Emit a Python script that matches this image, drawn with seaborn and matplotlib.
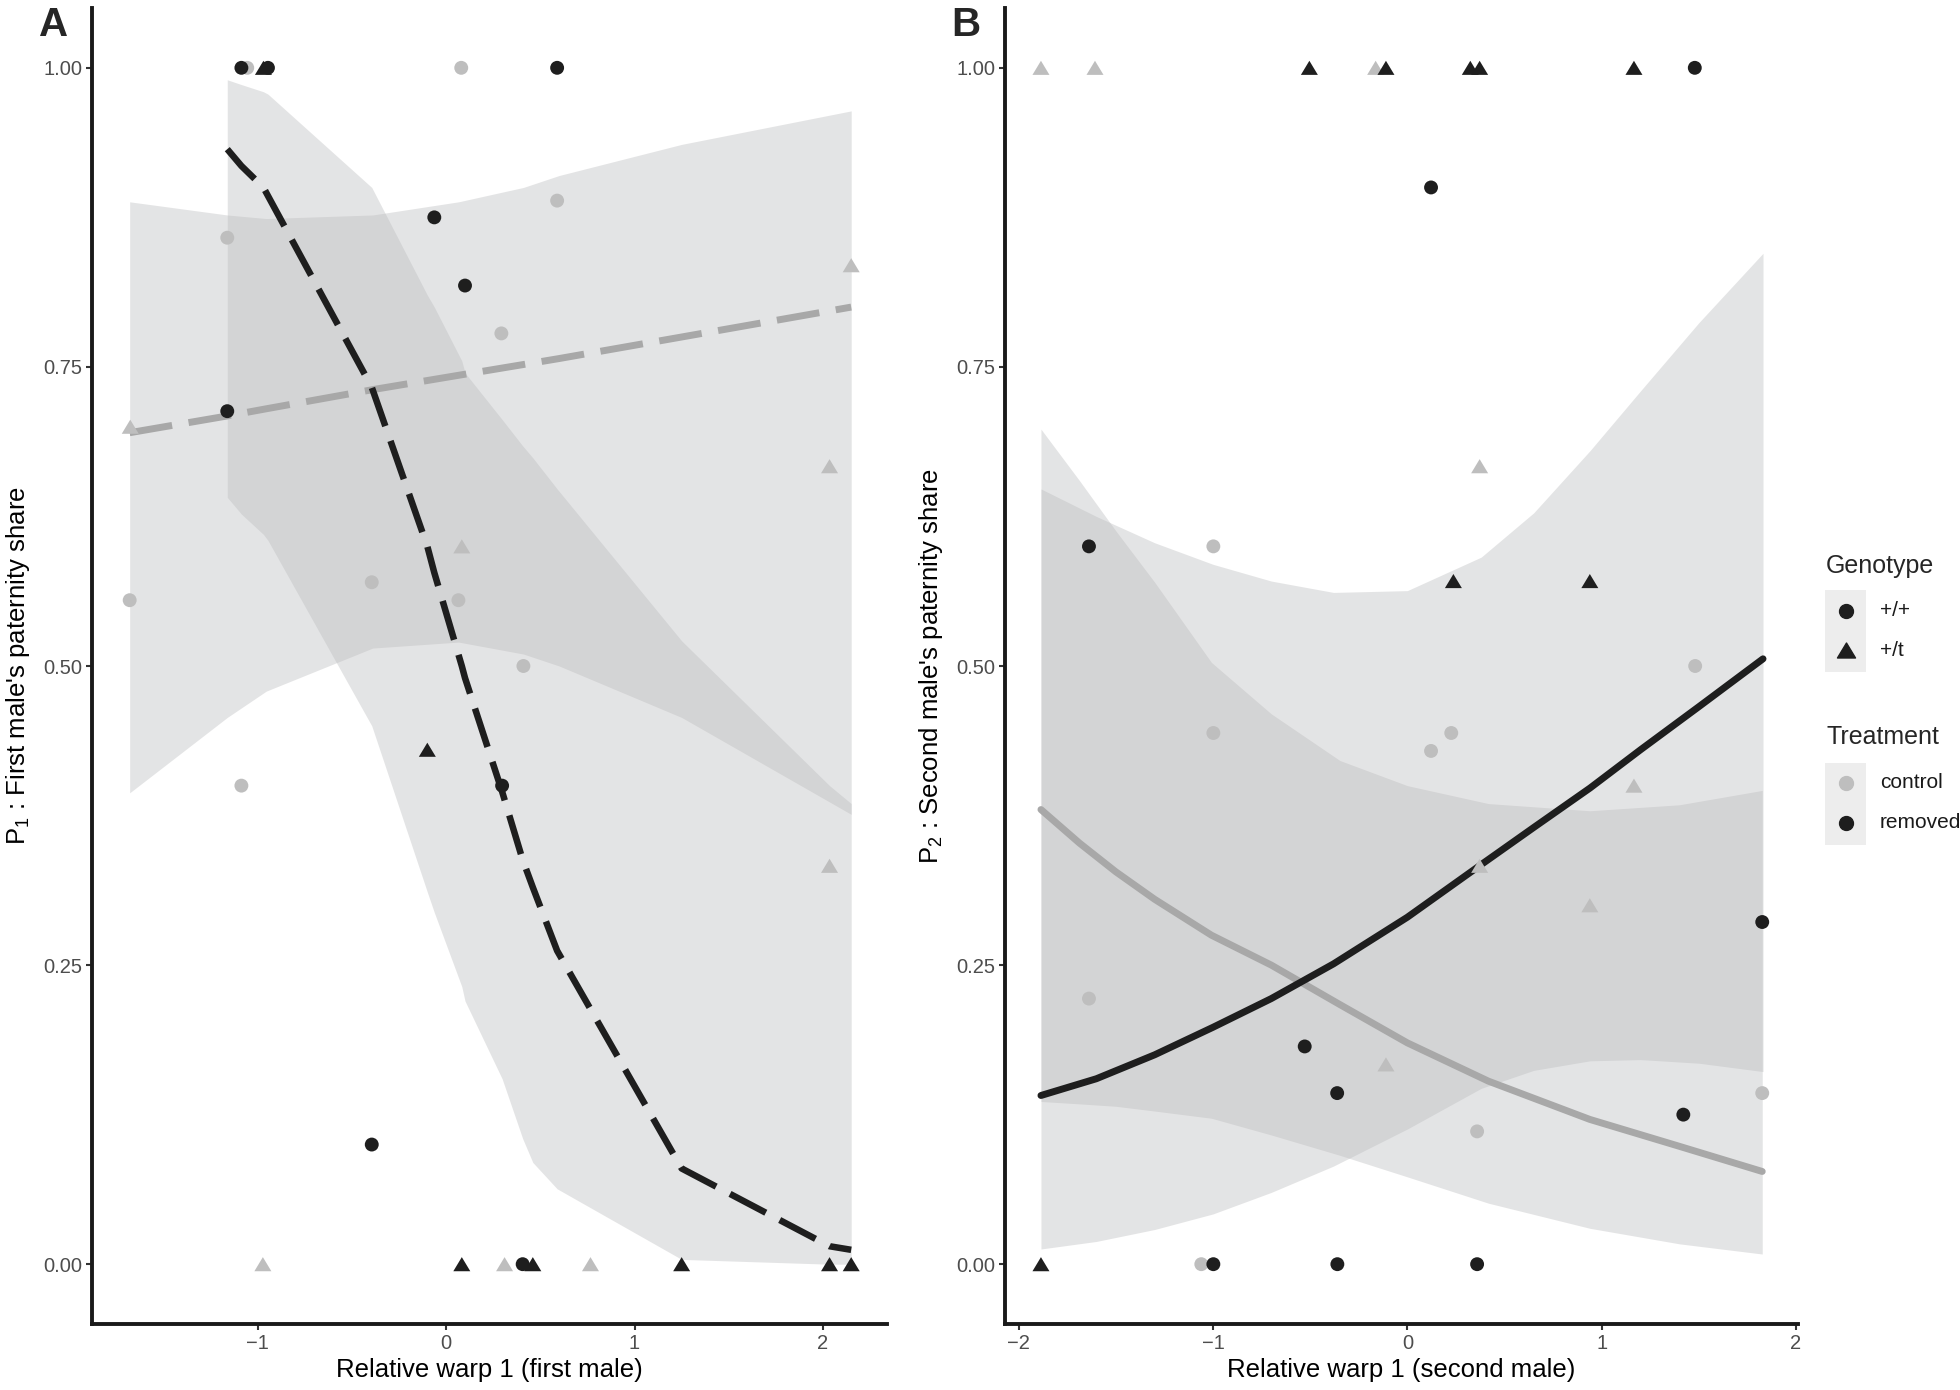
import numpy as np
import pandas as pd
import matplotlib
matplotlib.use("Agg")
import matplotlib.pyplot as plt
from matplotlib.path import Path
from matplotlib.patches import Rectangle
from matplotlib.lines import Line2D
import seaborn as sns

# ---------------- data ----------------
# Panel A (first male)
xA_ctrl = [-1.68, -1.677, -1.162, -1.087, -1.056, -0.973, -0.395, 0.065, 0.08, 0.083,
           0.293, 0.31, 0.41, 0.589, 0.766, 2.035, 2.035, 2.15]
yA_ctrl = [0.555, 0.70, 0.858, 0.40, 1.0, 0.0, 0.57, 0.555, 1.0, 0.60,
           0.778, 0.0, 0.50, 0.889, 0.0, 0.667, 0.333, 0.835]
gA_ctrl = ["+/+", "+/t", "+/+", "+/+", "+/+", "+/t", "+/+", "+/+", "+/+", "+/t",
           "+/+", "+/t", "+/+", "+/+", "+/t", "+/t", "+/t", "+/t"]

xA_rem = [-1.162, -1.087, -0.97, -0.946, -0.395, -0.1, -0.063, 0.083, 0.10, 0.297,
          0.406, 0.46, 0.589, 1.25, 2.035, 2.15]
yA_rem = [0.713, 1.0, 1.0, 1.0, 0.10, 0.43, 0.875, 0.0, 0.818, 0.40,
          0.0, 0.0, 1.0, 0.0, 0.0, 0.0]
gA_rem = ["+/+", "+/+", "+/t", "+/+", "+/+", "+/t", "+/+", "+/t", "+/+", "+/+",
          "+/+", "+/t", "+/+", "+/t", "+/t", "+/t"]

# fitted curves + confidence bands, panel A
fitA_rem_x = xA_rem
fitA_rem_y = [0.932, 0.918, 0.90, 0.893, 0.733, 0.60, 0.578, 0.50, 0.49, 0.395,
              0.338, 0.315, 0.262, 0.08, 0.015, 0.012]
fitA_rem_lo = [0.641, 0.627, 0.61, 0.605, 0.45, 0.311, 0.294, 0.232, 0.22, 0.155,
               0.105, 0.085, 0.063, 0.004, 0.0, 0.0]
fitA_rem_hi = [0.99, 0.986, 0.98, 0.978, 0.90, 0.81, 0.80, 0.755, 0.745, 0.706,
               0.684, 0.674, 0.648, 0.521, 0.40, 0.385]

fitA_ctrl_x = [-1.68, -1.162, -0.955, -0.39, 0.066, 0.41, 0.6, 1.25, 2.15]
fitA_ctrl_y = [0.695, 0.709, 0.715, 0.731, 0.743, 0.752, 0.757, 0.775, 0.80]
fitA_ctrl_lo = [0.394, 0.457, 0.479, 0.515, 0.52, 0.51, 0.50, 0.457, 0.376]
fitA_ctrl_hi = [0.888, 0.877, 0.874, 0.877, 0.888, 0.90, 0.91, 0.936, 0.964]

# Panel B (second male)
xB_ctrl = [-1.885, -1.607, -0.163, 0.372, -0.998, 1.481, -0.998, 0.226, 0.122, 1.166,
           0.372, 0.939, -1.638, -0.11, 1.826, 0.359, -1.06]
yB_ctrl = [1.0, 1.0, 1.0, 0.667, 0.60, 0.50, 0.444, 0.444, 0.429, 0.40,
           0.333, 0.30, 0.222, 0.167, 0.143, 0.111, 0.0]
gB_ctrl = ["+/t", "+/t", "+/t", "+/t", "+/+", "+/+", "+/+", "+/+", "+/+", "+/t",
           "+/t", "+/t", "+/+", "+/t", "+/+", "+/+", "+/+"]

xB_rem = [-0.504, -0.11, 0.324, 0.372, 1.166, 1.479, 0.122, -1.638, 0.237, 0.939,
          1.826, -0.528, -0.361, 1.42, -1.885, -0.998, -0.36, 0.359]
yB_rem = [1.0, 1.0, 1.0, 1.0, 1.0, 1.0, 0.90, 0.60, 0.571, 0.571,
          0.286, 0.182, 0.143, 0.125, 0.0, 0.0, 0.0, 0.0]
gB_rem = ["+/t", "+/t", "+/t", "+/t", "+/t", "+/+", "+/+", "+/+", "+/t", "+/t",
          "+/+", "+/+", "+/+", "+/+", "+/t", "+/+", "+/+", "+/+"]

fitB_rem_x = [-1.885, -1.6, -1.3, -1.0, -0.7, -0.38, 0.0, 0.38, 0.65, 0.94, 1.2, 1.5, 1.83]
fitB_rem_y = [0.141, 0.155, 0.175, 0.198, 0.222, 0.251, 0.29, 0.334, 0.365, 0.398,
              0.43, 0.466, 0.506]
fitB_rem_lo = [0.0127, 0.019, 0.029, 0.042, 0.06, 0.082, 0.113, 0.147, 0.162, 0.17,
               0.171, 0.168, 0.161]
fitB_rem_hi = [0.648, 0.625, 0.603, 0.585, 0.571, 0.5615, 0.563, 0.591, 0.628, 0.68,
               0.73, 0.787, 0.845]

fitB_ctrl_x = [-1.885, -1.687, -1.5, -1.3, -1.008, -0.7, -0.347, 0.0, 0.417, 0.939, 1.4, 1.826]
fitB_ctrl_y = [0.38, 0.352, 0.328, 0.305, 0.275, 0.25, 0.217, 0.185, 0.153, 0.121,
               0.0985, 0.0775]
fitB_ctrl_lo = [0.136, 0.134, 0.132, 0.128, 0.122, 0.108, 0.091, 0.073, 0.051, 0.03,
                0.017, 0.0085]
fitB_ctrl_hi = [0.698, 0.655, 0.613, 0.57, 0.503, 0.46, 0.421, 0.40, 0.385, 0.379,
                0.384, 0.396]

yticks = [0.0, 0.25, 0.5, 0.75, 1.0]
ytick_labels = ["0.00", "0.25", "0.50", "0.75", "1.00"]

# ---------------- style ----------------
sns.set_theme(style="white")
plt.rcParams["font.family"] = ["Liberation Sans", "DejaVu Sans"]
plt.rcParams["mathtext.fontset"] = "custom"
plt.rcParams["mathtext.rm"] = "Liberation Sans"
plt.rcParams["mathtext.it"] = "Liberation Sans:italic"

C_CTRL = "#BEBEBE"
C_REM = "#1E1E1E"
C_LINE_CTRL = "#A8A8A8"
RIB = "#BBBCBE"
RIB_ALPHA = 0.40
palette = {"control": C_CTRL, "removed": C_REM}
tri = Path([(-1, -0.83), (1, -0.83), (0, 0.83), (-1, -0.83)],
           [Path.MOVETO, Path.LINETO, Path.LINETO, Path.CLOSEPOLY])


def make_df(xc, yc, gc, xr, yr, gr):
    d1 = pd.DataFrame({"x": xc, "y": yc, "geno": gc, "trt": "control"})
    d2 = pd.DataFrame({"x": xr, "y": yr, "geno": gr, "trt": "removed"})
    return pd.concat([d1, d2], ignore_index=True)


dfA = make_df(xA_ctrl, yA_ctrl, gA_ctrl, xA_rem, yA_rem, gA_rem)
dfB = make_df(xB_ctrl, yB_ctrl, gB_ctrl, xB_rem, yB_rem, gB_rem)

W, H = 1960, 1390
fig = plt.figure(figsize=(W / 100, H / 100), dpi=100)
top, bot = 8, 1324
axA = fig.add_axes([92 / W, 1 - bot / H, (887 - 92) / W, (bot - top) / H])
axB = fig.add_axes([1005 / W, 1 - bot / H, (1798 - 1005) / W, (bot - top) / H])


def draw_panel(ax, df, fits, xlim, xlabel, ylabel):
    for fx, fy, lo, hi, col, ls, lw in fits:
        ax.fill_between(fx, lo, hi, color=RIB, alpha=RIB_ALPHA, linewidth=0, zorder=1)
    for fx, fy, lo, hi, col, ls, lw in fits:
        sns.lineplot(x=fx, y=fy, ax=ax, color=col, linewidth=lw, linestyle=ls,
                     sort=False, estimator=None, zorder=2)
    for geno, mk, s in [("+/+", "o", 100), ("+/t", tri, 150)]:
        sub = df[df["geno"] == geno]
        sns.scatterplot(data=sub, x="x", y="y", hue="trt", palette=palette,
                        marker=mk, s=s, linewidth=0, legend=False, ax=ax, zorder=3)
    ax.set_xlim(*xlim)
    ax.set_ylim(-0.05, 1.05)
    ax.set_yticks(yticks)
    ax.set_yticklabels(ytick_labels)
    ax.set_xlabel(xlabel, fontsize=18.5, color="black", labelpad=4)
    ax.set_ylabel(ylabel, fontsize=18.5, color="black", labelpad=8)
    ax.tick_params(axis="both", which="both", length=4, width=1.5, color="#333333",
                   labelsize=14.5, labelcolor="#4D4D4D", pad=3, left=True, bottom=True)
    sns.despine(ax=ax)
    for side in ["left", "bottom"]:
        ax.spines[side].set_linewidth(2.8)
        ax.spines[side].set_color("#1A1A1A")


dash = (0, (6.2, 2.4))
draw_panel(axA, dfA,
           [(fitA_ctrl_x, fitA_ctrl_y, fitA_ctrl_lo, fitA_ctrl_hi, C_LINE_CTRL, dash, 5),
            (fitA_rem_x, fitA_rem_y, fitA_rem_lo, fitA_rem_hi, C_REM, dash, 4.7)],
           (-1.88, 2.34), "Relative warp 1 (first male)",
           r"P$_1$ : First male's paternity share")
axA.set_xticks([-1, 0, 1, 2])

draw_panel(axB, dfB,
           [(fitB_ctrl_x, fitB_ctrl_y, fitB_ctrl_lo, fitB_ctrl_hi, C_LINE_CTRL, "-", 5),
            (fitB_rem_x, fitB_rem_y, fitB_rem_lo, fitB_rem_hi, C_REM, "-", 5)],
           (-2.07, 2.01), "Relative warp 1 (second male)",
           r"P$_2$ : Second male's paternity share")
axB.set_xticks([-2, -1, 0, 1, 2])

fig.text(39 / W, 1 - 6 / H, "A", fontsize=29, fontweight="bold", ha="left", va="top")
fig.text(951 / W, 1 - 6 / H, "B", fontsize=29, fontweight="bold", ha="left", va="top")

# ---------------- legend (drawn in pixel coordinates) ----------------
lax = fig.add_axes([1800 / W, 1 - 860 / H, 160 / W, 320 / H])
lax.set_xlim(1800, 1960)
lax.set_ylim(860, 540)
lax.axis("off")
kx = 1845.5
lax.text(1826, 566, "Genotype", fontsize=18, va="center", ha="left")
lax.add_patch(Rectangle((1825, 590), 41, 82, color="#EDEDED", lw=0))
lax.add_line(Line2D([kx], [611], marker="o", markersize=10, color=C_REM, lw=0))
lax.add_line(Line2D([kx], [650], marker=tri, markersize=13, color=C_REM, lw=0))
lax.text(1880, 611, "+/+", fontsize=15, va="center", ha="left", color="#1A1A1A")
lax.text(1880, 650, "+/t", fontsize=15, va="center", ha="left", color="#1A1A1A")

lax.text(1826, 737, "Treatment", fontsize=18, va="center", ha="left")
lax.add_patch(Rectangle((1825, 763), 41, 82, color="#EDEDED", lw=0))
lax.add_line(Line2D([kx], [783], marker="o", markersize=10, color=C_CTRL, lw=0))
lax.add_line(Line2D([kx], [823], marker="o", markersize=10, color=C_REM, lw=0))
lax.text(1880, 783, "control", fontsize=15, va="center", ha="left", color="#1A1A1A")
lax.text(1880, 823, "removed", fontsize=15, va="center", ha="left", color="#1A1A1A")

fig.savefig("out.png", dpi=100)
